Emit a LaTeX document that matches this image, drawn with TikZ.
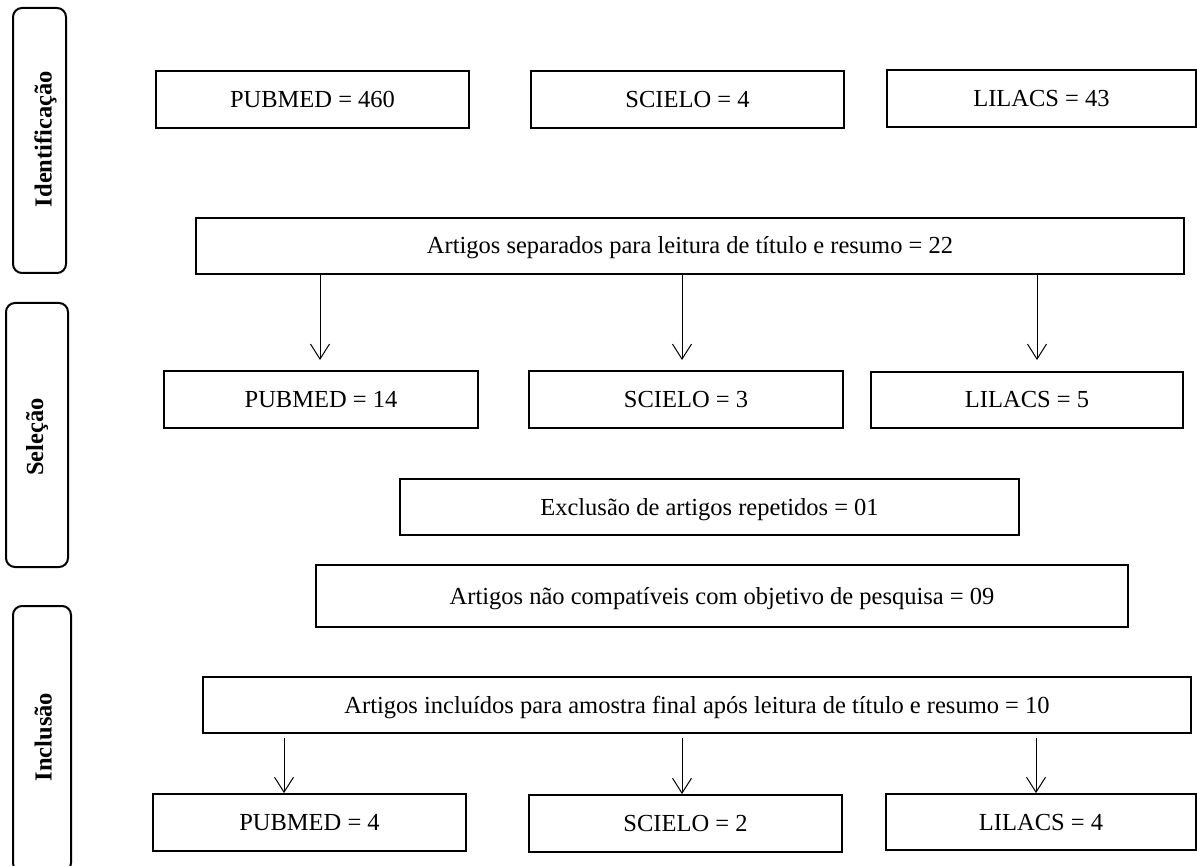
\documentclass[tikz,border=0pt]{standalone}
\usepackage{fontspec}
\setmainfont{Liberation Serif}
\usetikzlibrary{arrows.meta}
\begin{document}
\begin{tikzpicture}[x=1pt,y=-1pt,
  flowbox/.style={draw, line width=1.8pt, minimum width=#1, minimum height=57pt,
    inner sep=0pt, text height=16pt, text depth=0pt,
    font=\fontsize{24.5}{29}\selectfont},
  stagebox/.style={draw, line width=2pt, rounded corners=9pt},
  stagelabel/.style={rotate=90, inner sep=0pt, text height=16pt, text depth=0pt,
    font=\fontsize{24.5}{29}\selectfont\bfseries},
  arr/.style={line width=1pt, -{Straight Barb[length=15pt,width=19pt]}}]
\fill[white] (0,0) rectangle (1197,866);
\useasboundingbox (0,0) rectangle (1197,866);

% stage boxes
\draw[stagebox] (13,8) rectangle (66,273);
\node[stagelabel] (lid) at (43.5,139) {Identificação};
\draw[stagebox] (6,303) rectangle (68,567);
\node[stagelabel] (lsel) at (35,437) {Seleção};
\draw[stagebox] (13,606) rectangle (71,872);
\node[stagelabel] (linc) at (43.5,737) {Inclusão};

% row 1
\node[flowbox=313pt] (pub1) at (312.5,99.5) {PUBMED = 460};
\node[flowbox=313pt] (sci1) at (687.5,99.5) {SCIELO = 4};
\node[flowbox=309pt] (lil1) at (1041.5,98.5) {LILACS = 43};

\node[flowbox=988pt, minimum height=56pt] (art1) at (690,246) {Artigos separados para leitura de título e resumo = 22};

% row 2
\node[flowbox=314pt] (pub2) at (321,399.5) {PUBMED = 14};
\node[flowbox=314pt] (sci2) at (686,399.5) {SCIELO = 3};
\node[flowbox=312pt, minimum height=56pt] (lil2) at (1027,400) {LILACS = 5};

\node[flowbox=619pt, minimum height=56pt] (exc) at (709.5,507) {Exclusão de artigos repetidos = 01};
\node[flowbox=812pt, minimum height=62pt] (nao) at (722,596) {Artigos não compatíveis com objetivo de pesquisa = 09};
\node[flowbox=988pt, minimum height=56pt] (inc) at (697,705) {Artigos incluídos para amostra final após leitura de título e resumo = 10};

% row 3
\node[flowbox=313pt] (pub3) at (309.5,822.5) {PUBMED = 4};
\node[flowbox=313pt] (sci3) at (685.5,823.5) {SCIELO = 2};
\node[flowbox=310pt, minimum height=56pt] (lil3) at (1041,822) {LILACS = 4};

% arrows separados -> row 2
\coordinate (t1) at (320,360);
\coordinate (t2) at (682,360);
\coordinate (t3) at (1037,360);
\draw[arr] (art1.south -| t1) -- (t1);
\draw[arr] (art1.south -| t2) -- (t2);
\draw[arr] (art1.south -| t3) -- (t3);

% arrows incluidos -> row 3
\coordinate (s1) at (284,738);
\coordinate (s2) at (682,738);
\coordinate (s3) at (1036,738);
\draw[arr] (s1) -- (pub3.north -| s1);
\draw[arr] (s2) -- (sci3.north -| s2);
\draw[arr] (s3) -- (lil3.north -| s3);
\end{tikzpicture}
\end{document}
